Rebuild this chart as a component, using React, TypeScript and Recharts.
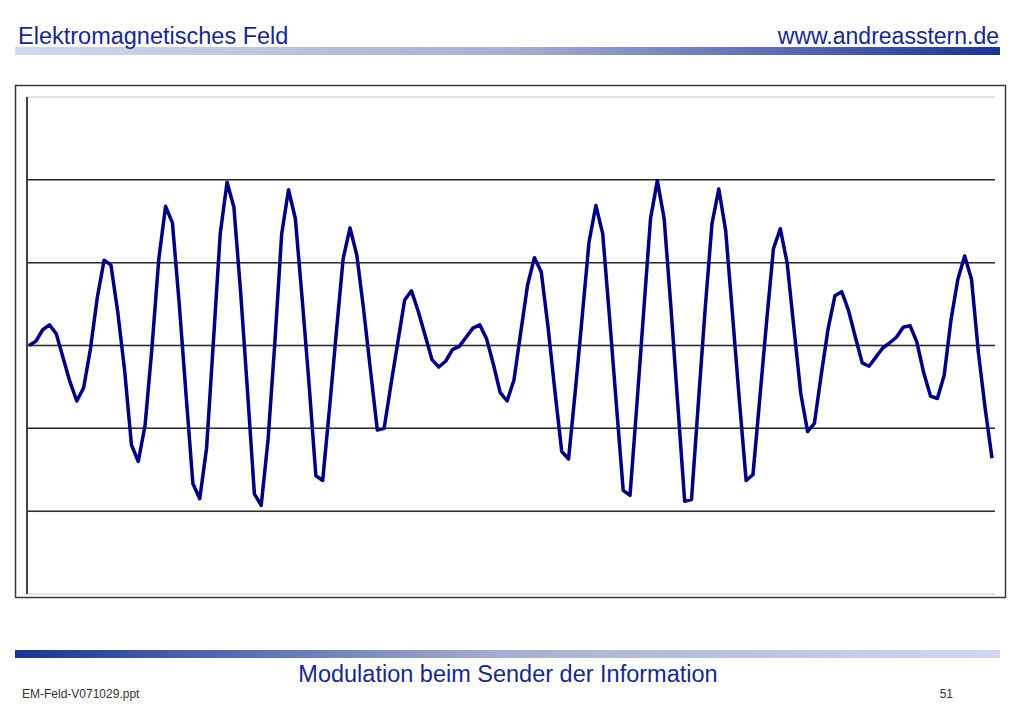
import { LineChart, Line, XAxis, YAxis, CartesianGrid, ReferenceLine } from 'recharts'

const fieldA = [
  0, 0.05, 0.19, 0.25, 0.14, -0.15, -0.44, -0.67, -0.51, -0.04,
  0.58, 1.03, 0.97, 0.4, -0.3, -1.2, -1.4, -0.96, -0.03, 1.04,
  1.68, 1.48, 0.5, -0.6, -1.67, -1.85, -1.24, 0.05, 1.35, 1.97,
  1.67, 0.63, -0.56, -1.79, -1.93, -1.14, 0.04, 1.35, 1.88, 1.53,
  0.56, -0.46, -1.57, -1.63, -0.76, 0.16, 1.05, 1.42, 1.09, 0.43,
  -0.3, -1.02, -1.0, -0.47, 0.04, 0.55, 0.66, 0.41, 0.12, -0.17,
  -0.26, -0.19, -0.05, -0.01, 0.1, 0.21, 0.25, 0.08, -0.23, -0.57,
]
const fieldB = [
  -0.67, -0.42, 0.16, 0.73, 1.06, 0.89, 0.22, -0.55, -1.28, -1.37,
  -0.54, 0.35, 1.25, 1.69, 1.35, 0.34, -0.71, -1.75, -1.81, -0.72,
  0.41, 1.53, 1.99, 1.53, 0.45, -0.72, -1.88, -1.86, -0.7, 0.44,
  1.47, 1.89, 1.39, 0.38, -0.65, -1.63, -1.56, -0.64, 0.29, 1.17,
  1.41, 1.0, 0.21, -0.58, -1.04, -0.94, -0.35, 0.2, 0.6, 0.65,
  0.42, 0.1, -0.21, -0.25, -0.14, -0.03, 0.03, 0.1, 0.22, 0.24,
  0.04, -0.33, -0.61, -0.64, -0.36, 0.31, 0.8, 1.08, 0.8, -0.08,
  -0.76, -1.36,
]

const yTicks = [-3, -2, -1, 0, 1, 2, 3]
const darkLines = [-2, -1, 0, 1, 2]

const TITLE = 'Elektromagnetisches Feld'
const SITE = 'www.andreasstern.de'
const CAPTION = 'Modulation beim Sender der Information'
const FILE_NAME = 'EM-Feld-V071029.ppt'
const PAGE_NO = '51'

const BLUE_TEXT = '#17298c'
const LINE_COLOR = '#000080'
const FONT = "'Liberation Sans', Arial, sans-serif"

const data = [...fieldA, ...fieldB].map((v, i) => ({ t: i, v }))

function Slide() {
  return (
    <svg width={1024} height={709} style={{ position: 'absolute', left: 0, top: 0 }}>
      <defs>
        <linearGradient id="barTop" x1="0" x2="1" y1="0" y2="0">
          <stop offset="0%" stopColor="#d2d8eb" />
          <stop offset="50%" stopColor="#a8b0d2" />
          <stop offset="100%" stopColor="#1b3494" />
        </linearGradient>
        <linearGradient id="barBottom" x1="0" x2="1" y1="0" y2="0">
          <stop offset="0%" stopColor="#1b3494" />
          <stop offset="50%" stopColor="#a8b0d2" />
          <stop offset="100%" stopColor="#d2d8eb" />
        </linearGradient>
      </defs>
      <rect x={15} y={47} width={985} height={8} fill="url(#barTop)" />
      <text x={18} y={44} fontFamily={FONT} fontSize={23.5} fill={BLUE_TEXT}>
        {TITLE}
      </text>
      <text x={999} y={44} textAnchor="end" fontFamily={FONT} fontSize={23} fill={BLUE_TEXT}>
        {SITE}
      </text>

      <rect x={15.5} y={85.5} width={990} height={512} fill="#fff" stroke="#3a3a3a" strokeWidth={1.5} />

      <rect x={15} y={650} width={985} height={8} fill="url(#barBottom)" />
      <text x={508} y={682} textAnchor="middle" fontFamily={FONT} fontSize={23.5} fill={BLUE_TEXT}>
        {CAPTION}
      </text>
      <text x={22} y={698} fontFamily={FONT} fontSize={12} fill="#333">
        {FILE_NAME}
      </text>
      <text x={953} y={698} textAnchor="end" fontFamily={FONT} fontSize={12} fill="#333">
        {PAGE_NO}
      </text>
    </svg>
  )
}

export default function App() {
  return (
    <div style={{ position: 'absolute', left: 0, top: 0, width: 1024, height: 709, background: '#fff' }}>
      <Slide />
      <div style={{ position: 'absolute', left: 0, top: 0 }}>
        <LineChart width={1024} height={709} data={data} margin={{ top: 97, right: 29, bottom: 115, left: 27 }}>
          <CartesianGrid vertical={false} stroke="#e3e3e3" strokeWidth={2} />
          {/* value axis line on the left edge of the plot */}
          <CartesianGrid
            horizontal={false}
            verticalCoordinatesGenerator={({ offset }) => [offset.left]}
            stroke="#444"
            strokeWidth={2}
          />
          <XAxis dataKey="t" hide padding={{ left: 2, right: 3 }} />
          <YAxis domain={[-3, 3]} ticks={yTicks} hide />
          {darkLines.map((y) => (
            <ReferenceLine key={y} y={y} stroke="#2e2e2e" strokeWidth={1.5} />
          ))}
          <Line
            type="linear"
            dataKey="v"
            stroke={LINE_COLOR}
            strokeWidth={3.5}
            strokeLinejoin="round"
            dot={false}
            isAnimationActive={false}
          />
        </LineChart>
      </div>
    </div>
  )
}
